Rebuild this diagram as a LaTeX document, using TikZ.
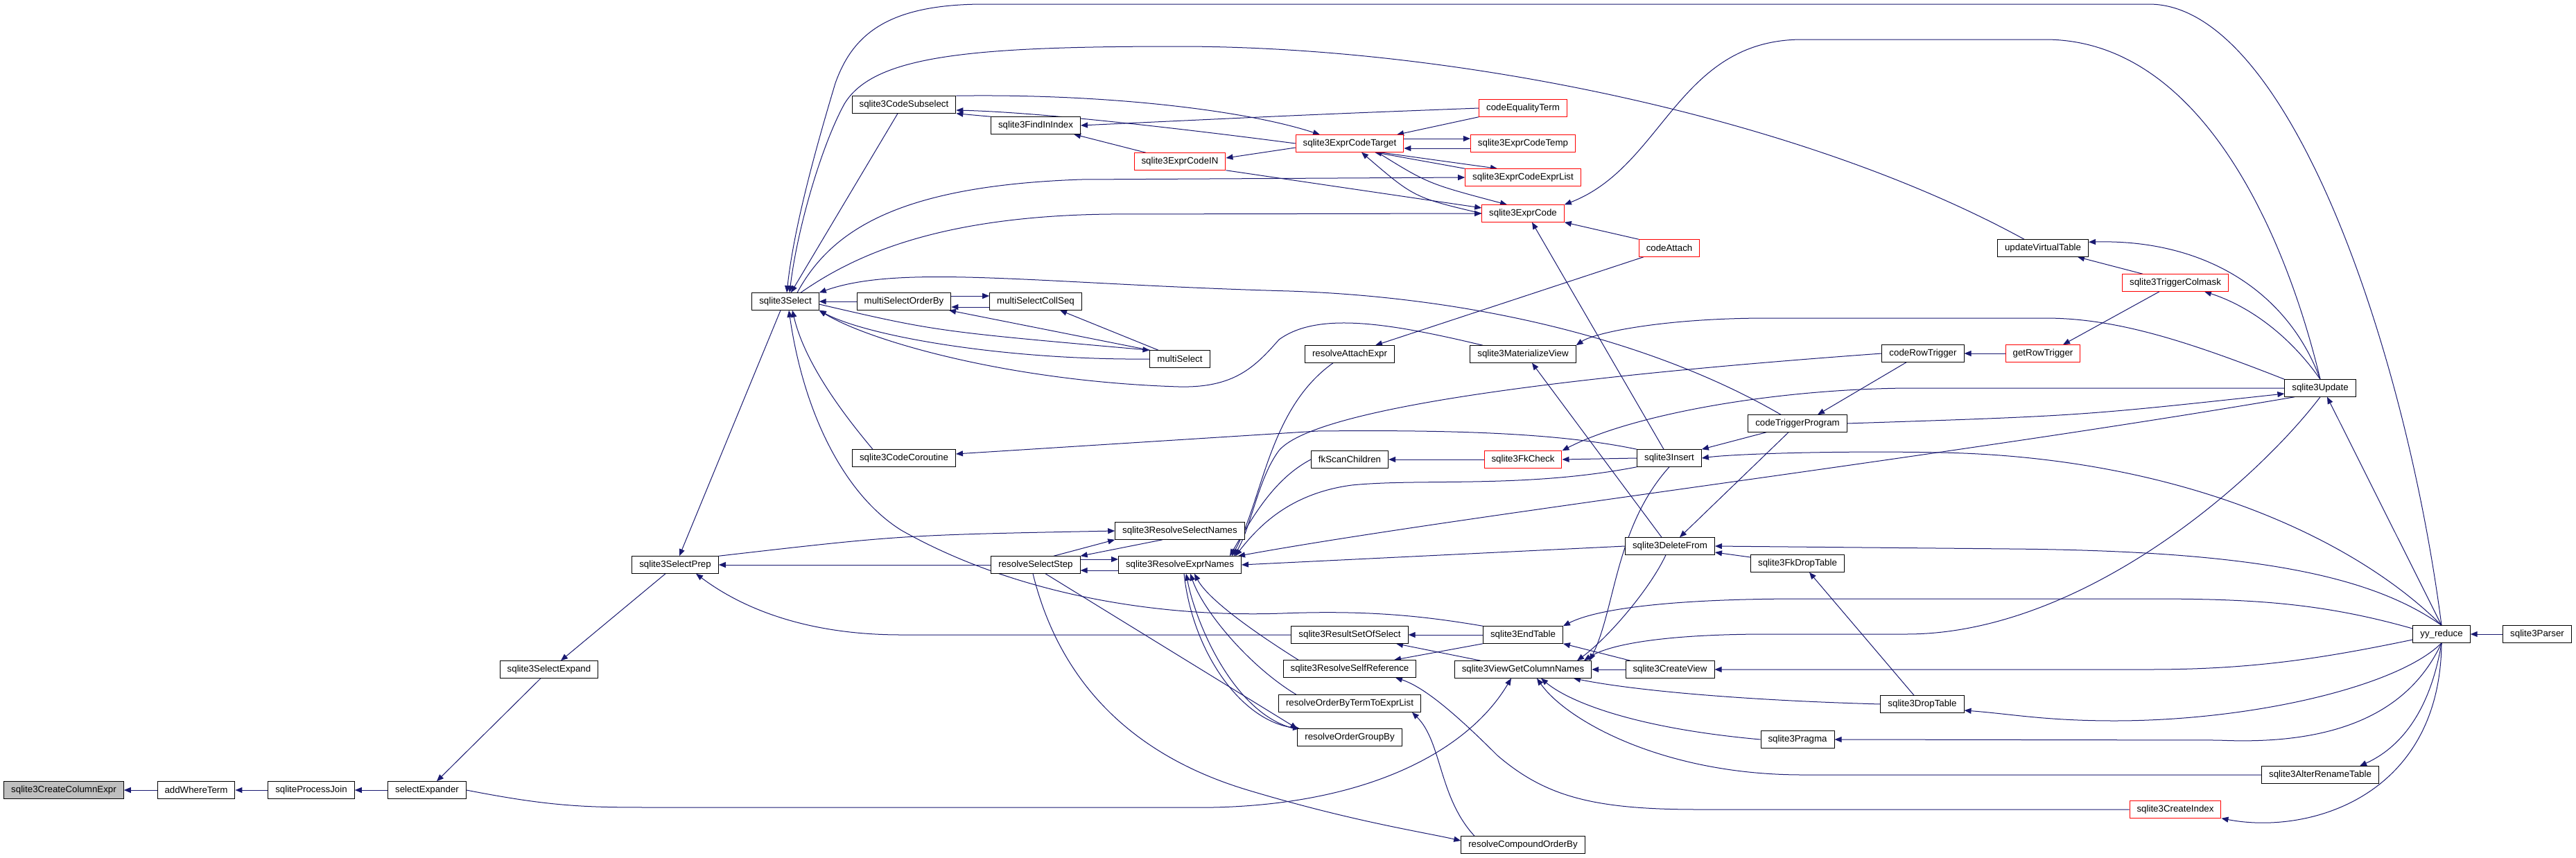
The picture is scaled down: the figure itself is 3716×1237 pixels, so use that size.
\documentclass[tikz,border=0pt]{standalone}
\usepackage{fontspec}
\setmainfont{Liberation Sans}
\usetikzlibrary{arrows.meta, backgrounds}
\definecolor{edgeblue}{HTML}{191970}
\definecolor{rootgray}{HTML}{BFBFBF}

\begin{document}
\begin{tikzpicture}[
  x=1pt, y=-1pt,
  func/.style={draw=black, line width=1pt, fill=white, minimum height=24.5pt,
               inner xsep=10.5pt, inner ysep=0pt, font=\fontsize{13.3}{15}\selectfont},
  trunc/.style={func, draw=red},
  root/.style={func, fill=rootgray},
  call/.style={-{Triangle[length=10pt, width=8pt]}, draw=edgeblue, line width=1pt},
]
\useasboundingbox (0,0) rectangle (3716,1237);

% Root and its first callers
\node[root] (colexpr) at (92,1140) {sqlite3CreateColumnExpr};
\node[func] (addwhere) at (283,1140) {addWhereTerm};
\node[func] (projoin) at (449,1140) {sqliteProcessJoin};
\node[func] (selexpander) at (616,1140) {selectExpander};
\node[func] (selexpand) at (792,966) {sqlite3SelectExpand};
\node[func] (selprep) at (974,815) {sqlite3SelectPrep};

% Select column
\node[func] (select) at (1133,435) {sqlite3Select};
\node[func] (codesub) at (1304,151) {sqlite3CodeSubselect};
\node[func] (msorderby) at (1304,435) {multiSelectOrderBy};
\node[func] (coroutine) at (1304,661) {sqlite3CodeCoroutine};
\node[func] (findin) at (1494,181) {sqlite3FindInIndex};
\node[func] (mscollseq) at (1494,435) {multiSelectCollSeq};
\node[func] (selstep) at (1494,815) {resolveSelectStep};
\node[trunc] (codein) at (1702,233) {sqlite3ExprCodeIN};
\node[func] (msel) at (1702,518) {multiSelect};
\node[func] (selnames) at (1702,766) {sqlite3ResolveSelectNames};
\node[func] (exprnames) at (1702,815) {sqlite3ResolveExprNames};

% Resolver and code generators
\node[trunc] (codetarget) at (1947,207) {sqlite3ExprCodeTarget};
\node[func] (attachexpr) at (1947,511) {resolveAttachExpr};
\node[func] (fkscan) at (1947,663) {fkScanChildren};
\node[func] (resultset) at (1947,916) {sqlite3ResultSetOfSelect};
\node[func] (selfref) at (1947,965) {sqlite3ResolveSelfReference};
\node[func] (termtolist) at (1947,1015) {resolveOrderByTermToExprList};
\node[func] (groupby) at (1947,1064) {resolveOrderGroupBy};
\node[trunc] (eqterm) at (2197,156) {codeEqualityTerm};
\node[trunc] (codetemp) at (2197,207) {sqlite3ExprCodeTemp};
\node[trunc] (codelist) at (2197,256) {sqlite3ExprCodeExprList};
\node[trunc] (exprcode) at (2197,308) {sqlite3ExprCode};
\node[func] (matview) at (2197,511) {sqlite3MaterializeView};
\node[trunc] (fkcheck) at (2197,663) {sqlite3FkCheck};
\node[func] (endtable) at (2197,916) {sqlite3EndTable};
\node[func] (viewcols) at (2197,966) {sqlite3ViewGetColumnNames};
\node[func] (compound) at (2197,1219) {resolveCompoundOrderBy};

% Statements
\node[trunc] (codeattach) at (2408,358) {codeAttach};
\node[func] (insert) at (2408,661) {sqlite3Insert};
\node[func] (deletefrom) at (2409,788) {sqlite3DeleteFrom};
\node[func] (createview) at (2409,966) {sqlite3CreateView};
\node[func] (trigprog) at (2593,611) {codeTriggerProgram};
\node[func] (fkdrop) at (2593,813) {sqlite3FkDropTable};
\node[func] (pragma) at (2593,1067) {sqlite3Pragma};
\node[func] (rowtrig) at (2774,510) {codeRowTrigger};
\node[func] (droptable) at (2773,1016) {sqlite3DropTable};
\node[func] (vtab) at (2947,358) {updateVirtualTable};
\node[trunc] (getrowtrig) at (2947,510) {getRowTrigger};
\node[trunc] (colmask) at (3138,408) {sqlite3TriggerColmask};
\node[trunc] (createindex) at (3138,1168) {sqlite3CreateIndex};
\node[func] (update) at (3347,560) {sqlite3Update};
\node[func] (rename) at (3347,1118) {sqlite3AlterRenameTable};

% Parser
\node[func] (yyreduce) at (3522,915) {yy\_reduce};
\node[func] (parser) at (3660,915) {sqlite3Parser};

\begin{scope}[on background layer]
  % chain down to the root
  \draw[call] (addwhere) -- (colexpr);
  \draw[call] (projoin) -- (addwhere);
  \draw[call] (selexpander) -- (projoin);
  \draw[call] ([xshift=-12pt]selexpand.south) -- ([xshift=14pt]selexpander.north);
  \draw[call] ([xshift=-14pt]selprep.south) -- ([xshift=17pt]selexpand.north);
  \draw[call] (selexpander.east) .. controls (800,1165) and (850,1165) .. (950,1165) -- (1750,1165)
    .. controls (1980,1160) and (2120,1080) .. ([xshift=-17pt]viewcols.south);

  % into sqlite3Select
  \draw[call] (yyreduce.north) .. controls (3470,500) and (3300,6) .. (3100,6) -- (1420,6)
    .. controls (1280,6) and (1230,50) .. (1205,120) .. controls (1175,220) and (1145,330) .. ([xshift=2pt]select.north);
  \draw[call] ([xshift=-27pt]vtab.north) .. controls (2600,170) and (2100,67) .. (1700,67)
    .. controls (1400,67) and (1260,80) .. (1218,150) .. controls (1185,210) and (1150,330) .. ([xshift=6pt]select.north);
  \draw[call] ([xshift=-9pt]codesub.south) -- ([xshift=8pt]select.north);
  \draw[call] ([xshift=-24pt]trigprog.north) .. controls (2400,500) and (2150,430) .. (1860,420)
    .. controls (1500,410) and (1300,380) .. (select.north east);
  \draw[call] (msorderby.west) -- (select.east);
  \draw[call] (msel.west) .. controls (1450,520) and (1250,485) .. (select.south east);
  \draw[call] ([xshift=-58pt]matview.north) .. controls (2000,465) and (1900,450) .. (1845,490)
    .. controls (1810,530) and (1780,560) .. (1700,558) .. controls (1450,550) and (1250,490) .. (select.south east);
  \draw[call] ([xshift=-58pt]endtable.north) .. controls (2060,890) and (1980,880) .. (1850,885)
    .. controls (1650,892) and (1450,850) .. (1300,765) .. controls (1220,715) and (1160,600) .. ([xshift=5pt]select.south);
  \draw[call] ([xshift=-45pt]coroutine.north) .. controls (1210,590) and (1160,520) .. ([xshift=10pt]select.south);

  % out of sqlite3Select
  \draw[call] ([xshift=-7pt]select.south) -- ([xshift=6pt]selprep.north);
  \draw[call] ([xshift=17pt]select.north) .. controls (1200,330) and (1300,268) .. (1560,259) -- (codelist.west);
  \draw[call] ([xshift=22pt]select.north) .. controls (1230,370) and (1350,312) .. (1600,309) -- (exprcode.west);
  \draw[call] ([yshift=-4pt]select.east) .. controls (1350,478) .. (msel.north west);

  % multiSelect
  \draw[call] ([yshift=8pt]msorderby.east) -- ([yshift=8pt]mscollseq.west);
  \draw[call] ([yshift=-8pt]mscollseq.west) -- ([yshift=-8pt]msorderby.east);
  \draw[call] (msel.north west) -- ([xshift=65pt]msorderby.south);
  \draw[call] ([xshift=-31pt]msel.north) -- ([xshift=35pt]mscollseq.south);

  % subselect and IN
  \draw[call] (findin.north west) -- (codesub.south east);
  \draw[call] (codesub.north east) .. controls (1600,135) and (1800,160) .. ([xshift=-43pt]codetarget.north);
  \draw[call] (codetarget.west) .. controls (1700,185) and (1500,162) .. ([yshift=-8pt]codesub.east);
  \draw[call] (eqterm.west) .. controls (1900,165) .. (findin.east);
  \draw[call] ([xshift=-49pt]codein.north) -- ([xshift=55pt]findin.south);
  \draw[call] ([yshift=-6pt]codetarget.west) -- ([yshift=5pt]codein.east);
  \draw[call] (codein.south east) -- ([yshift=8pt]exprcode.west);

  % sqlite3ExprCodeTarget
  \draw[call] (eqterm.south west) -- ([xshift=68pt]codetarget.north);
  \draw[call] ([yshift=7pt]codetarget.east) -- ([yshift=7pt]codetemp.west);
  \draw[call] ([yshift=-7pt]codetemp.west) -- ([yshift=-7pt]codetarget.east);
  \draw[call] ([xshift=43pt]codetarget.south) -- ([xshift=-37pt]codelist.north);
  \draw[call] (codelist.north west) -- ([xshift=36pt]codetarget.south);
  \draw[call] ([xshift=40pt]codetarget.south) .. controls (2060,265) .. ([xshift=-23pt]exprcode.north);
  \draw[call] (exprcode.west) .. controls (2040,285) .. ([xshift=17pt]codetarget.south);

  % sqlite3ExprCode callers
  \draw[call] (update.north) .. controls (3300,350) and (3180,57) .. (2950,57) -- (2600,57)
    .. controls (2420,57) and (2400,240) .. (exprcode.north east);
  \draw[call] (codeattach.north west) -- (exprcode.south east);
  \draw[call] ([xshift=-8pt]insert.north) -- ([xshift=13pt]exprcode.south);
  \draw[call] ([xshift=-37pt]codeattach.south) -- ([xshift=37pt]attachexpr.north);
  \draw[call] ([xshift=-24pt]attachexpr.south) .. controls (1830,590) and (1822,720) .. ([xshift=75pt]exprnames.north);

  % views and triggers
  \draw[call] (update.north west) .. controls (3150,490) and (3050,459) .. (2950,459) -- (2550,459)
    .. controls (2400,459) and (2300,480) .. (matview.north east);
  \draw[call] ([xshift=-12pt]deletefrom.north) -- ([xshift=13pt]matview.south);
  \draw[call] (getrowtrig.west) -- (rowtrig.east);
  \draw[call] ([xshift=-24pt]rowtrig.south) -- ([xshift=29pt]trigprog.north);
  \draw[call] (rowtrig.west) .. controls (2300,540) and (1900,585) .. (1845,650)
    .. controls (1815,690) and (1805,760) .. ([xshift=78pt]exprnames.north);
  \draw[call] (update.north) .. controls (3300,480) and (3240,440) .. ([xshift=42pt]colmask.south);
  \draw[call] ([xshift=-23pt]colmask.south) -- ([xshift=29pt]getrowtrig.north);
  \draw[call] ([xshift=-47pt]colmask.north) -- ([xshift=50pt]vtab.south);
  \draw[call] (update.north) .. controls (3300,420) and (3180,345) .. ([yshift=-4pt]vtab.north east);

  % codeTriggerProgram
  \draw[call] (trigprog.east) .. controls (3000,600) .. ([yshift=-8pt]update.west);
  \draw[call] ([xshift=-45pt]trigprog.south) -- (insert.north east);
  \draw[call] ([xshift=-13pt]trigprog.south) -- ([xshift=14pt]deletefrom.north);

  % foreign keys
  \draw[call] (fkcheck.west) -- (fkscan.east);
  \draw[call] (insert.west) -- (fkcheck.east);
  \draw[call] (update.west) -- (2750,560) .. controls (2550,562) and (2350,600) .. (fkcheck.north east);
  \draw[call] (fkscan.west) .. controls (1840,690) and (1810,740) .. ([xshift=72pt]exprnames.north);

  % sqlite3Insert
  \draw[call] (yyreduce.north) .. controls (3400,780) and (3150,660) .. (2800,653)
    .. controls (2650,650) and (2500,655) .. (insert.east);
  \draw[call] (insert.north west) .. controls (2250,625) and (2100,620) .. (1900,622) -- ([yshift=6pt]coroutine.east);
  \draw[call] (insert.south west) .. controls (2200,705) and (2050,690) .. (1950,700)
    .. controls (1860,712) and (1815,760) .. ([xshift=80pt]exprnames.north);
  \draw[call] (insert.south) .. controls (2330,760) and (2330,880) .. ([xshift=96pt]viewcols.north);
  \draw[call] ([xshift=-37pt]update.south) .. controls (2800,660) and (2100,745) .. ([xshift=84pt]exprnames.north);

  % sqlite3DeleteFrom
  \draw[call] (yyreduce.north) .. controls (3420,830) and (3250,795) .. (2900,792) -- (deletefrom.east);
  \draw[call] (deletefrom.west) -- (exprnames.east);
  \draw[call] ([xshift=-6pt]deletefrom.south) .. controls (2380,850) and (2320,920) .. ([xshift=78pt]viewcols.north);
  \draw[call] ([yshift=9pt]fkdrop.west) -- ([yshift=-9pt]deletefrom.east);
  \draw[call] (update.south) .. controls (3250,700) and (3000,915) .. (2750,915) -- (2550,915)
    .. controls (2400,915) and (2320,930) .. ([xshift=88pt]viewcols.north);

  % yy_reduce
  \draw[call] (parser) -- (yyreduce);
  \draw[call] (yyreduce.north) -- ([xshift=10pt]update.south);
  \draw[call] ([yshift=8pt]yyreduce.west) .. controls (3350,870) and (3250,864) .. (3100,864) -- (2600,864)
    .. controls (2400,864) and (2300,880) .. (endtable.north east);
  \draw[call] ([yshift=-8pt]yyreduce.west) .. controls (3350,950) and (3250,966) .. (3100,966) -- (createview.east);
  \draw[call] (yyreduce.south) .. controls (3460,990) and (3250,1040) .. (3050,1040)
    .. controls (2950,1040) and (2900,1030) .. ([yshift=-9pt]droptable.east);
  \draw[call] (yyreduce.south) .. controls (3470,1040) and (3350,1075) .. (3200,1068) -- (pragma.east);
  \draw[call] (yyreduce.south) .. controls (3505,1030) and (3460,1080) .. ([xshift=57pt]rename.north);
  \draw[call] (yyreduce.south) .. controls (3520,1150) and (3330,1205) .. (createindex.south east);

  % sqlite3ViewGetColumnNames callers
  \draw[call] (rename.west) -- (2600,1118) .. controls (2400,1118) and (2260,1040) .. ([xshift=20pt]viewcols.south);
  \draw[call] (pragma.west) .. controls (2350,1050) and (2260,1010) .. ([xshift=26pt]viewcols.south);
  \draw[call] (droptable.west) .. controls (2500,1010) and (2350,995) .. ([xshift=73pt]viewcols.south);
  \draw[call] ([xshift=-12pt]droptable.north) -- ([xshift=17pt]fkdrop.south);
  \draw[call] (createview.west) -- (viewcols.east);
  \draw[call] ([xshift=-57pt]createview.north) -- (endtable.south east);
  \draw[call] (createindex.west) -- (2450,1168) .. controls (2300,1168) and (2230,1150) .. (2160,1090)
    .. controls (2090,1020) and (2050,990) .. ([xshift=66pt]selfref.south);

  % end table and result sets
  \draw[call] (endtable.west) -- (resultset.east);
  \draw[call] (endtable.south west) -- ([xshift=64pt]selfref.north);
  \draw[call] ([xshift=-61pt]viewcols.north) -- ([xshift=67pt]resultset.south);
  \draw[call] (resultset.west) -- (1300,916) .. controls (1150,916) and (1060,870) .. ([xshift=30pt]selprep.south);

  % name resolution
  \draw[call] (selstep.west) -- (selprep.east);
  \draw[call] (selprep.north east) .. controls (1300,772) .. (selnames.west);
  \draw[call] ([xshift=26pt]selstep.north) -- (selnames.south west);
  \draw[call] ([xshift=-25pt]selnames.south) -- (selstep.north east);
  \draw[call] ([yshift=8pt]selstep.east) -- ([yshift=8pt]exprnames.west);
  \draw[call] ([yshift=-8pt]exprnames.west) -- ([yshift=-8pt]selstep.east);
  \draw[call] ([xshift=-74pt]selfref.north) .. controls (1790,900) and (1740,860) .. ([xshift=21pt]exprnames.south);
  \draw[call] ([xshift=-77pt]termtolist.north) .. controls (1800,960) and (1735,880) .. ([xshift=15pt]exprnames.south);
  \draw[call] ([xshift=-80pt]groupby.north) .. controls (1780,1030) and (1725,900) .. ([xshift=9pt]exprnames.south);
  \draw[call] ([xshift=6pt]exprnames.south) .. controls (1720,940) and (1790,1040) .. ([xshift=-72pt]groupby.north);
  \draw[call] ([xshift=14pt]selstep.south) -- (groupby.north west);
  \draw[call] ([xshift=-4pt]selstep.south) .. controls (1520,950) and (1600,1080) .. (1800,1140)
    .. controls (1950,1185) and (2050,1200) .. ([yshift=6pt]compound.west);
  \draw[call] ([xshift=-70pt]compound.north) .. controls (2075,1150) and (2080,1070) .. ([xshift=90pt]termtolist.south);
\end{scope}

\end{tikzpicture}
\end{document}
